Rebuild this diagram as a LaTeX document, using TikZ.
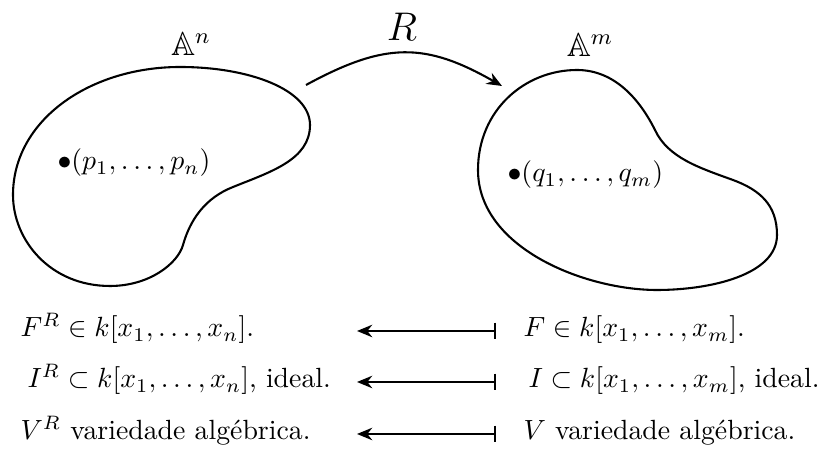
\documentclass[tikz,border=0pt]{standalone}
\usepackage{amssymb}
\usetikzlibrary{arrows.meta}
\begin{document}
\begin{tikzpicture}[x=0.36pt,y=-0.36pt,
  blob/.style={line width=0.75pt},
  lbl/.style={inner sep=0pt, anchor=base west},
  ptlbl/.style={inner sep=0pt, anchor=west},
  maparrow/.style={line width=0.75pt, {Bar[width=6pt,line width=0.75pt]}-{Stealth[length=5.5pt,width=4.5pt]}},
  rarrow/.style={line width=0.75pt, -{Stealth[length=5.5pt,width=4.5pt]}}]
\useasboundingbox (0,0) rectangle (819,451);
% blobs
\draw[blob] (13,195) .. controls (13,120) and (90,67) .. (180,67)
  .. controls (250,67) and (310,90) .. (310,125)
  .. controls (310,160) and (270,172) .. (233,187)
  .. controls (205,198) and (190,220) .. (183,245)
  .. controls (178,263) and (150,286) .. (110,286)
  .. controls (50,286) and (13,240) .. cycle;
\draw[blob] (478,170) .. controls (478,110) and (525,70) .. (577,70)
  .. controls (615,70) and (640,100) .. (655,130)
  .. controls (668,158) and (700,168) .. (733,180)
  .. controls (760,190) and (777,205) .. (777,235)
  .. controls (777,275) and (710,290) .. (657,290)
  .. controls (585,290) and (478,248) .. cycle;
% labels
\node (An) at (191,44) {\large $\mathbb{A}^n$};
\node (Am) at (590,45) {\large $\mathbb{A}^m$};
\node (R) at (402,27) {\Large $R$};
\node[ptlbl] (p) at (57,163) {$\bullet(p_1,\ldots,p_n)$};
\node[ptlbl] (q) at (507,175) {$\bullet(q_1,\ldots,q_m)$};
% map arrow
\coordinate (Rs) at (306,85);
\coordinate (Re) at (502,86);
\draw[rarrow] (Rs) .. controls (385,42) and (425,42) .. (Re);
% bottom rows
\node[lbl] (FR) at (20,337) {$F^R\in k[x_1,\ldots,x_n].$};
\node[lbl] (IR) at (27,388) {$I^R\subset k[x_1,\ldots,x_n]$, ideal.};
\node[lbl] (VR) at (20,440) {$V^R$ variedade algébrica.};
\node[lbl] (F) at (523,337) {$F\in k[x_1,\ldots,x_m].$};
\node[lbl] (I) at (528,388) {$I\subset k[x_1,\ldots,x_m]$, ideal.};
\node[lbl] (V) at (523,440) {$V$ variedade algébrica.};
\coordinate (a1r) at (496,331); \coordinate (a1l) at (357,331);
\coordinate (a2r) at (496,382); \coordinate (a2l) at (357,382);
\coordinate (a3r) at (496,434); \coordinate (a3l) at (357,434);
\draw[maparrow] (a1r) -- (a1l);
\draw[maparrow] (a2r) -- (a2l);
\draw[maparrow] (a3r) -- (a3l);
\end{tikzpicture}
\end{document}
